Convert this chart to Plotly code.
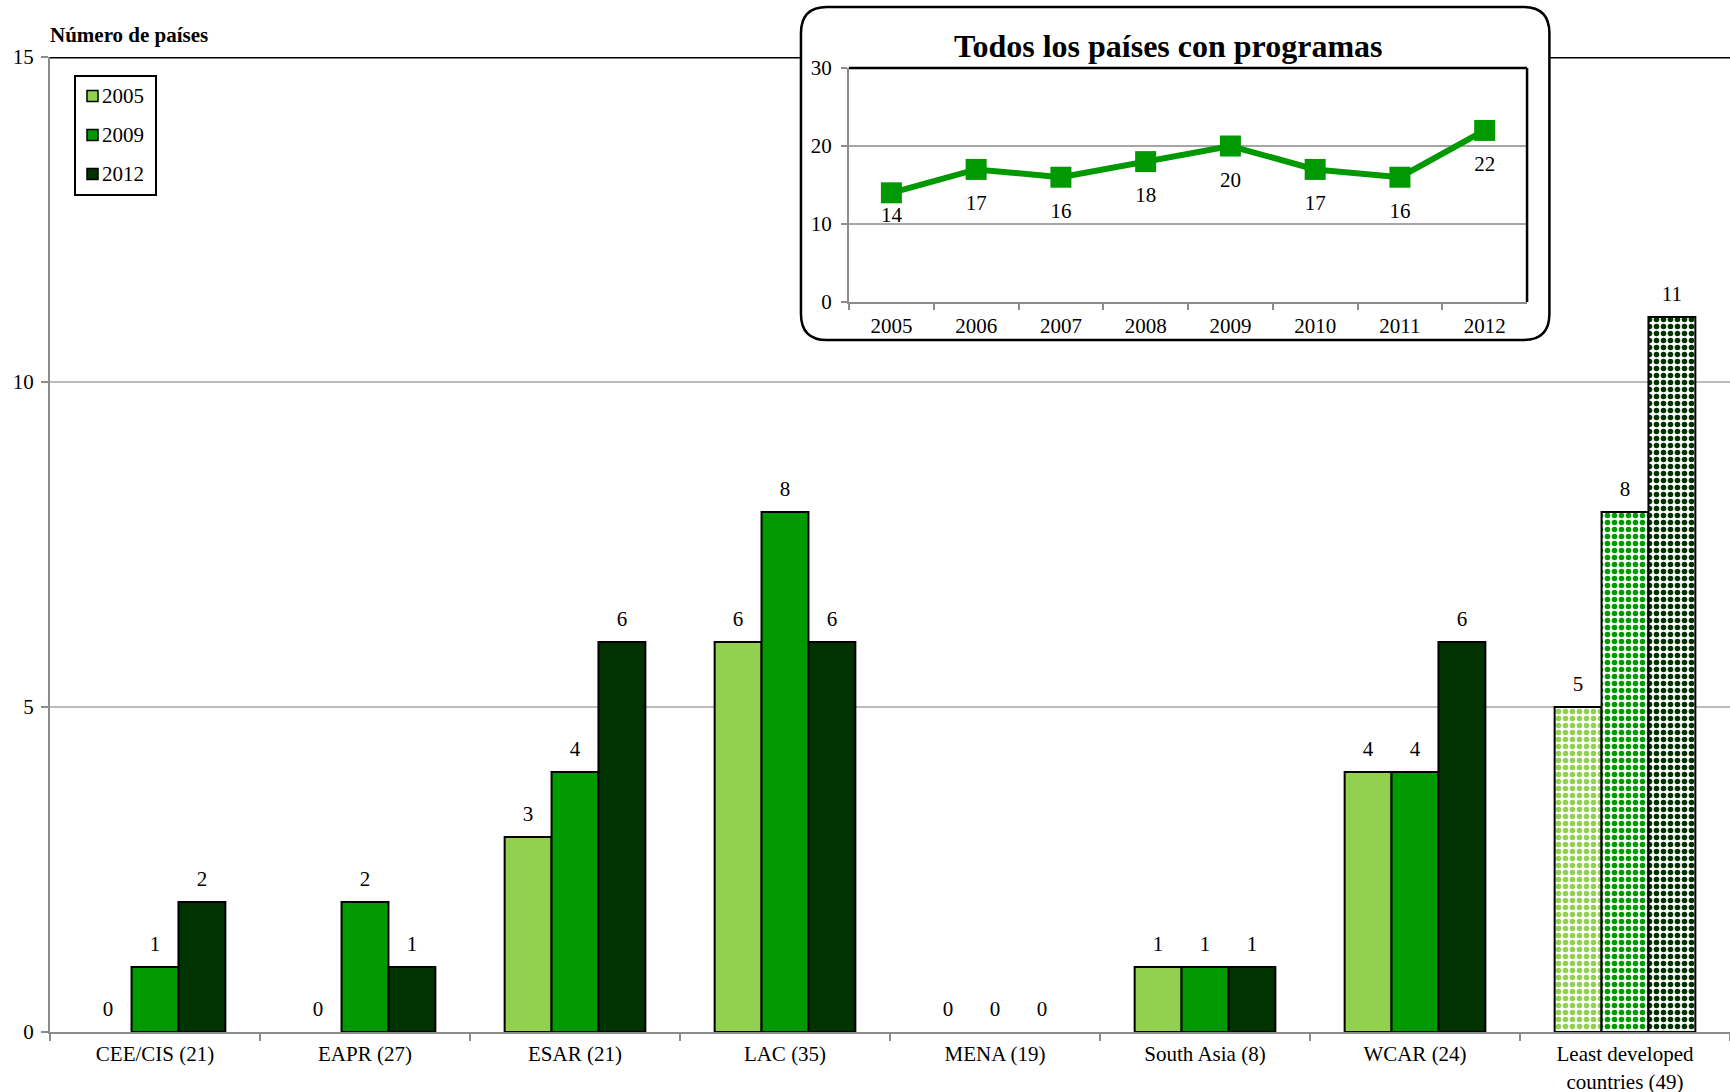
import plotly.graph_objects as go

# ---- data ----
categories = ["CEE/CIS (21)", "EAPR (27)", "ESAR (21)", "LAC (35)", "MENA (19)",
              "South Asia (8)", "WCAR (24)", "Least developed<br>countries (49)"]
series_names = ["2005", "2009", "2012"]
values_2005 = [0, 0, 3, 6, 0, 1, 4, 5]
values_2009 = [1, 2, 4, 8, 0, 1, 4, 8]
values_2012 = [2, 1, 6, 6, 0, 1, 6, 11]
patterned = [False, False, False, False, False, False, False, True]

inset_years = ["2005", "2006", "2007", "2008", "2009", "2010", "2011", "2012"]
inset_values = [14, 17, 16, 18, 20, 17, 16, 22]

main_yticks = [0, 5, 10, 15]
inset_yticks = [0, 10, 20, 30]

# ---- style ----
colors = ["#92D050", "#009900", "#003300"]
FONT = "Liberation Serif"
GRID = "#A6A6A6"
AXIS = "#8C8C8C"

def px(xp):  # pixel (x) -> paper
    return (xp - 50) / 1680

def py(yp):  # pixel (y) -> paper
    return (1032 - yp) / 975

fig = go.Figure()

all_vals = [values_2005, values_2009, values_2012]
for name, vals, col in zip(series_names, all_vals, colors):
    fig.add_trace(go.Bar(
        x=categories, y=vals, name=name,
        marker=dict(
            color=col,
            line=dict(color="black", width=[0 if v == 0 else 2 for v in vals]),
            pattern=dict(shape=[("." if p else "") for p in patterned],
                         fgcolor=col, bgcolor="white", size=7, solidity=0.5,
                         fillmode="replace"),
        ),
        showlegend=False, xaxis="x", yaxis="y",
    ))

# value labels above bars (scatter grouped like the bars)
for name, vals in zip(series_names, all_vals):
    fig.add_trace(go.Scatter(
        x=categories, y=vals, mode="markers+text", orientation="v",
        marker=dict(size=16, opacity=0),
        text=[str(v) for v in vals], textposition="top center",
        textfont=dict(family=FONT, size=21, color="black"),
        showlegend=False, hoverinfo="skip", cliponaxis=False,
        xaxis="x", yaxis="y",
    ))

fig.add_trace(go.Scatter(
    x=inset_years, y=inset_values, mode="lines+markers", orientation="v",
    offsetgroup="inset",
    line=dict(color="#009900", width=6),
    marker=dict(symbol="square", size=21, color="#009900"),
    showlegend=False, xaxis="x2", yaxis="y2", cliponaxis=False,
))
fig.add_trace(go.Scatter(
    x=inset_years, y=inset_values, mode="markers+text", orientation="v",
    offsetgroup="inset",
    marker=dict(size=[20] + [38] * (len(inset_values) - 1), opacity=0),
    text=[str(v) for v in inset_values], textposition="bottom center",
    textfont=dict(family=FONT, size=21, color="black"),
    showlegend=False, hoverinfo="skip", xaxis="x2", yaxis="y2", cliponaxis=False,
))

# shapes: main grid, top line, inset box, inset borders
shapes = []
for gv in main_yticks[1:-1]:
    shapes.append(dict(type="line", xref="paper", yref="y", x0=0, x1=1, y0=gv, y1=gv,
                       line=dict(color=GRID, width=1.5), layer="below"))
shapes.append(dict(type="line", xref="paper", yref="y", x0=0, x1=1,
                   y0=main_yticks[-1], y1=main_yticks[-1],
                   line=dict(color="black", width=3), layer="below"))

bx0, bx1, by0, by1 = 0.447, 0.8925, 0.7097, 1.0513
rx, ry = 0.0155, 0.027
path = (f"M{bx0+rx},{by1} L{bx1-rx},{by1} Q{bx1},{by1} {bx1},{by1-ry} "
        f"L{bx1},{by0+ry} Q{bx1},{by0} {bx1-rx},{by0} L{bx0+rx},{by0} "
        f"Q{bx0},{by0} {bx0},{by0+ry} L{bx0},{by1-ry} Q{bx0},{by1} {bx0+rx},{by1} Z")
shapes.append(dict(type="path", xref="paper", yref="paper", path=path,
                   fillcolor="white", line=dict(color="black", width=2.5), layer="below"))
shapes.append(dict(type="line", xref="x2 domain", yref="y2 domain", x0=0, x1=1, y0=1, y1=1,
                   line=dict(color="black", width=2.5), layer="above"))
shapes.append(dict(type="line", xref="x2 domain", yref="y2 domain", x0=1, x1=1, y0=0, y1=1,
                   line=dict(color="black", width=2.5), layer="above"))

# manual legend (box, swatches, labels)
annotations = []
shapes.append(dict(type="rect", xref="paper", yref="paper",
                   x0=px(75), x1=px(156), y0=py(195), y1=py(76),
                   fillcolor="white", line=dict(color="black", width=2), layer="above"))
for i, (name, col) in enumerate(zip(series_names, colors)):
    yc = py(96 + 39 * i)
    shapes.append(dict(type="rect", xref="paper", yref="paper",
                       xsizemode="pixel", ysizemode="pixel",
                       xanchor=px(92.5), yanchor=yc, x0=-5.5, x1=5.5, y0=-5.5, y1=5.5,
                       fillcolor=col, line=dict(color="black", width=1.5), layer="above"))
    annotations.append(dict(text=name, xref="paper", yref="paper", x=px(100), y=yc,
                            xanchor="left", yanchor="middle", showarrow=False,
                            font=dict(family=FONT, size=21)))

annotations += [
    dict(text="<b>Número de países</b>", xref="paper", yref="paper", x=px(48), y=py(35),
         xanchor="left", yanchor="middle", showarrow=False,
         font=dict(family=FONT, size=21)),
    dict(text="<b>Todos los países con programas</b>", xref="paper", yref="paper",
         x=0.666, y=1.0113, xanchor="center", yanchor="middle", showarrow=False,
         font=dict(family=FONT, size=32)),
]

fig.update_layout(
    width=1730, height=1092,
    margin=dict(l=50, r=0, t=57, b=60),
    paper_bgcolor="white", plot_bgcolor="rgba(0,0,0,0)",
    font=dict(family=FONT, size=21, color="black"),
    barmode="group", bargap=0.33, bargroupgap=0,
    scattermode="group", scattergap=0.33,
    showlegend=False,
    xaxis=dict(domain=[0, 1], showline=True, linecolor=AXIS, linewidth=2,
               ticks="outside", tickson="boundaries", ticklen=7, tickcolor=AXIS,
               tickwidth=2, showgrid=False, ticklabelstandoff=2, automargin=False,
               tickfont=dict(family=FONT, size=21)),
    yaxis=dict(domain=[0, 1], range=[0, 15], tickvals=main_yticks, showgrid=False,
               showline=True, linecolor=AXIS, linewidth=2, ticks="outside",
               ticklen=7, tickcolor=AXIS, tickwidth=2, zeroline=False, automargin=False,
               ticklabelstandoff=3, tickfont=dict(family=FONT, size=21)),
    xaxis2=dict(domain=[0.4756, 0.8792], anchor="y2", showline=True, linecolor=AXIS,
                linewidth=2, ticks="outside", tickson="boundaries", ticklen=6,
                tickcolor=AXIS, tickwidth=2, showgrid=False, ticklabelstandoff=4,
                automargin=False, tickfont=dict(family=FONT, size=21)),
    yaxis2=dict(domain=[0.7487, 0.9887], anchor="x2", range=[0, 30], tickvals=inset_yticks,
                showgrid=True, gridcolor=GRID, gridwidth=1.5, showline=True,
                linecolor=AXIS, linewidth=2, ticks="outside", ticklen=6,
                tickcolor=AXIS, tickwidth=2, zeroline=False, ticklabelstandoff=5,
                automargin=False, tickfont=dict(family=FONT, size=21)),
    shapes=shapes,
    annotations=annotations,
)

fig.write_html("out.html", config={"displayModeBar": False},
               post_script="document.body.style.margin='0';")
